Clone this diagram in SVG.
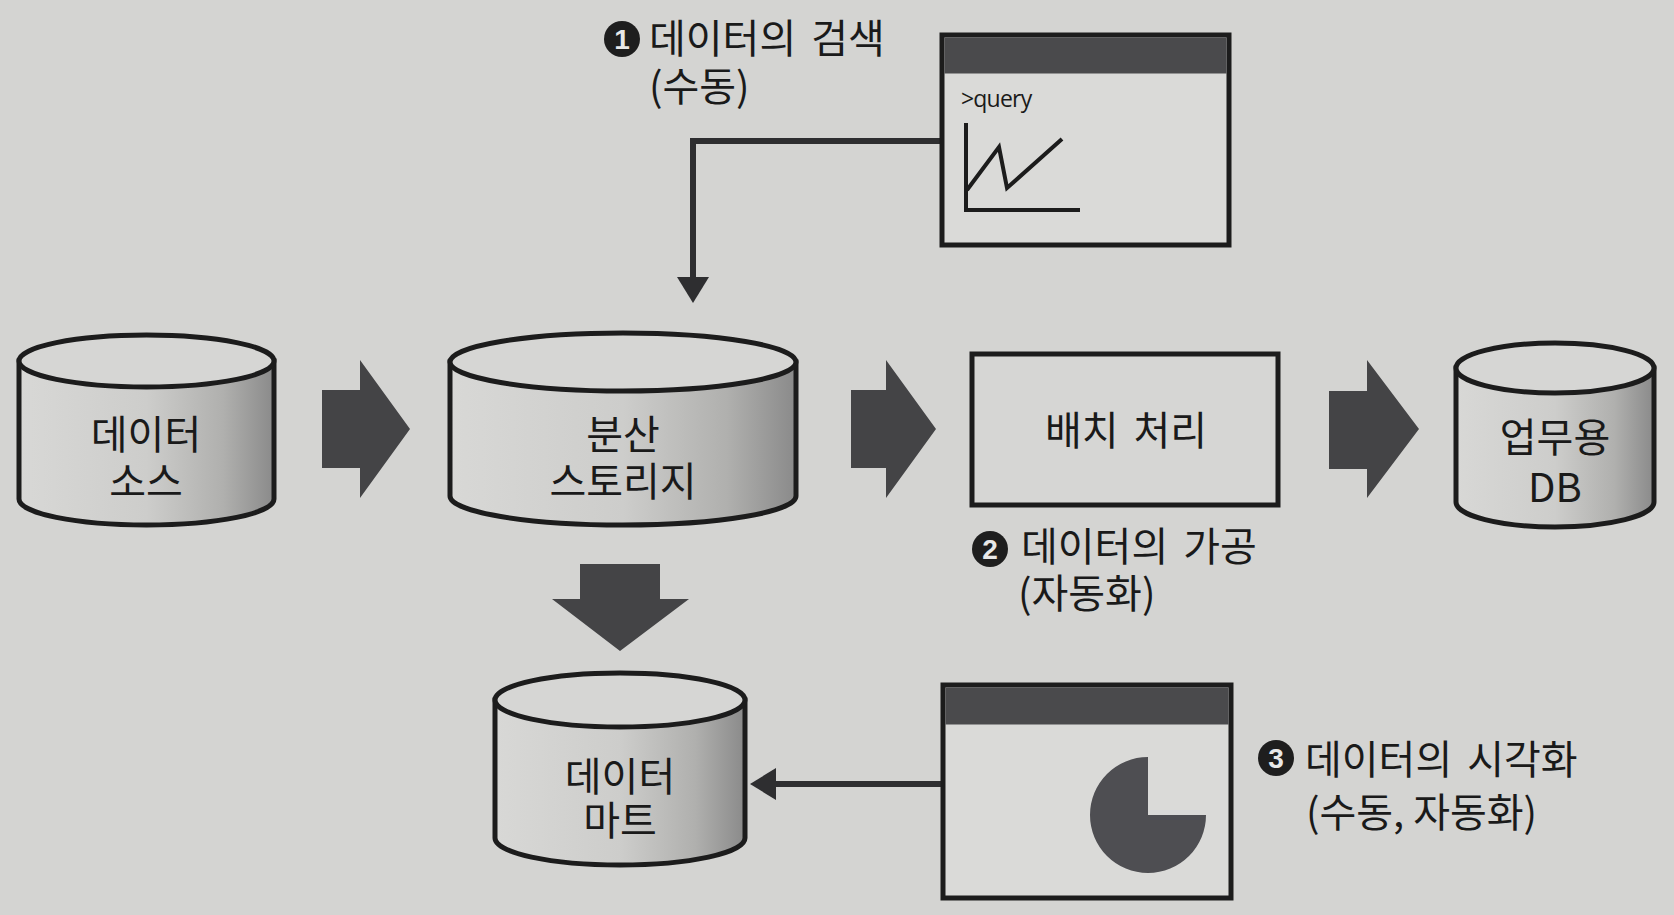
<svg xmlns="http://www.w3.org/2000/svg" width="1674" height="915" viewBox="0 0 1674 915">
<defs>
<linearGradient id="cylGrad" x1="0" y1="0" x2="1" y2="0">
<stop offset="0" stop-color="#d8d8d6"/>
<stop offset="0.5" stop-color="#cdcdcb"/>
<stop offset="0.8" stop-color="#b0b0ae"/>
<stop offset="1" stop-color="#8a8a8a"/>
</linearGradient>
<marker id="head" markerUnits="userSpaceOnUse" markerWidth="26" markerHeight="32" refX="13" refY="16" orient="auto">
<path d="M0,0 L26,16 L0,32 Z" fill="#2e2e30"/>
</marker>
<style>
.bg{fill:#d4d4d2}
.body{fill:url(#cylGrad);stroke:#1c1c1c;stroke-width:5}
.top{fill:#d6d6d4;stroke:#1c1c1c;stroke-width:5}
.blk{fill:#444446}
.win{fill:#dadad8;stroke:#1c1c1c;stroke-width:5}
.bar{fill:#4a4a4c}
.conn{fill:none;stroke:#2e2e30;stroke-width:6}
.t{font-family:"Noto Sans CJK KR","Noto Sans",sans-serif;font-size:40px;fill:#1a1a1a}
.w{word-spacing:6px}
.c{text-anchor:middle}
.num{fill:#1e1e1e}
.numt{font-family:"Liberation Sans",sans-serif;font-weight:bold;font-size:28px;fill:#e8e8e8;text-anchor:middle}
.q{font-family:"Open Sans",sans-serif;font-size:23px;fill:#1a1a1a;letter-spacing:-0.8px}
</style>
</defs>
<rect class="bg" x="0" y="0" width="1674" height="915"/>

<g id="connectors">
<path class="conn" d="M942,141 H693 V290" marker-end="url(#head)"/>
<path class="conn" d="M945,784 H763" marker-end="url(#head)"/>
<polygon class="blk" points="322,390 360,390 360,360 410,429 360,498 360,468 322,468"/>
<polygon class="blk" points="851,390 886,390 886,360 936,429 886,498 886,468 851,468"/>
<polygon class="blk" points="1329,391 1367,391 1367,360 1419,429 1367,498 1367,469 1329,469"/>
<polygon class="blk" points="580,564 660,564 660,599 689,599 620,651 552,599 580,599"/>
</g>

<g id="query-window">
<rect class="win" x="942" y="35" width="287" height="210"/>
<rect class="bar" x="944.5" y="37.5" width="282" height="36"/>
<text class="q" x="961" y="107">&gt;query</text>
<path d="M966,123 V210 H1080" fill="none" stroke="#1c1c1c" stroke-width="4"/>
<path d="M967,190 L999,147 L1007,188 L1062,139" fill="none" stroke="#1c1c1c" stroke-width="4"/>
</g>

<g id="label-1">
<circle class="num" cx="622" cy="39" r="18"/>
<text class="numt" x="622" y="49">1</text>
<text class="t w" x="649" y="53">데이터의 검색</text>
<text class="t" x="649" y="101">(수동)</text>
</g>

<g id="data-source">
<path class="body" d="M19,361 V499 A127.5,26 0 0 0 274,499 V361 Z"/>
<ellipse class="top" cx="146.5" cy="361" rx="127.5" ry="26"/>
<text class="t c" x="146" y="449">데이터</text>
<text class="t c" x="146" y="496">소스</text>
</g>

<g id="distributed-storage">
<path class="body" d="M450,362 V496 A173,29 0 0 0 796,496 V362 Z"/>
<ellipse class="top" cx="623" cy="362" rx="173" ry="29"/>
<text class="t c" x="623" y="449">분산</text>
<text class="t c" x="623" y="496">스토리지</text>
</g>

<g id="batch">
<rect class="win" x="972" y="354" width="306" height="151" style="fill:#d6d6d4"/>
<text class="t c w" x="1126" y="445">배치 처리</text>
</g>

<g id="label-2">
<circle class="num" cx="990" cy="549" r="18"/>
<text class="numt" x="990" y="559">2</text>
<text class="t w" x="1021" y="561">데이터의 가공</text>
<text class="t" x="1018" y="608">(자동화)</text>
</g>

<g id="business-db">
<path class="body" d="M1456,368 V502 A99,25 0 0 0 1654,502 V368 Z"/>
<ellipse class="top" cx="1555" cy="368" rx="99" ry="25"/>
<text class="t c" x="1555" y="452">업무용</text>
<text class="t c" x="1555" y="502">DB</text>
</g>

<g id="data-mart">
<path class="body" d="M495,700 V838 A125,27 0 0 0 745,838 V700 Z"/>
<ellipse class="top" cx="620" cy="700" rx="125" ry="27"/>
<text class="t c" x="620" y="791">데이터</text>
<text class="t c" x="620" y="835">마트</text>
</g>

<g id="pie-window">
<rect class="win" x="943" y="685" width="288" height="213"/>
<rect class="bar" x="945.5" y="687.5" width="283" height="37"/>
<path d="M1148,815 L1148,757 A58,58 0 1 0 1206,815 Z" fill="#4e4e52"/>
</g>

<g id="label-3">
<circle class="num" cx="1276" cy="758" r="18"/>
<text class="numt" x="1276" y="768">3</text>
<text class="t w" x="1305" y="774">데이터의 시각화</text>
<text class="t" x="1306" y="827">(수동, 자동화)</text>
</g>
</svg>
